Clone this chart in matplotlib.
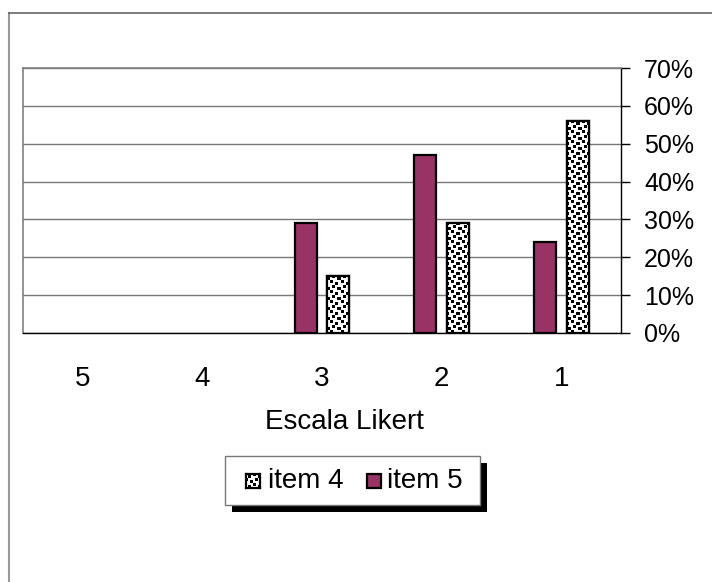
import numpy as np
import matplotlib
matplotlib.use("Agg")
import matplotlib.pyplot as plt
from matplotlib.patches import Rectangle
from matplotlib.lines import Line2D
from matplotlib.ticker import PercentFormatter

categories = ["5", "4", "3", "2", "1"]
item5 = [0, 0, 29, 47, 24]
item4 = [0, 0, 15, 29, 56]
yticks = [0, 10, 20, 30, 40, 50, 60, 70]
series_labels = ["item 4", "item 5"]

plt.rcParams["font.family"] = ["Liberation Sans", "DejaVu Sans"]

W, H, DPI = 712, 582, 100
fig = plt.figure(figsize=(W / DPI, H / DPI), dpi=DPI)
fig.patch.set_facecolor("white")


def fx(px):
    return px / W


def fy(py):
    return 1 - py / H


# outer chart frame (left and top edges)
fig.add_artist(Line2D([fx(9), fx(9)], [0, fy(13)], transform=fig.transFigure,
                      color="#9a9a9a", lw=1.5))
fig.add_artist(Line2D([fx(9), 1], [fy(13), fy(13)], transform=fig.transFigure,
                      color="#666666", lw=1.2))

left, right, top, bottom = 23, 621, 68, 333
ax = fig.add_axes([fx(left), fy(bottom), fx(right - left), (bottom - top) / H])

x = np.arange(len(categories))
bw = 0.185
off = 0.137
plum = "#993366"


def edge_widths(vals):
    return [1.6 if v > 0 else 0 for v in vals]


b5 = ax.bar(x - off, item5, bw, color=plum, edgecolor="black",
            linewidth=edge_widths(item5), zorder=3)
b4 = ax.bar(x + off, item4, bw, color="white", edgecolor="black",
            linewidth=edge_widths(item4), zorder=3)

ax.set_xlim(-0.5, len(categories) - 0.5)
ax.set_ylim(0, 70)
ax.set_yticks(yticks)
ax.yaxis.set_major_formatter(PercentFormatter(decimals=0))
ax.yaxis.tick_right()
ax.tick_params(axis="y", direction="out", length=6.5, width=1, labelsize=18, pad=10,
               colors="black")
ax.set_xticks(x)
ax.set_xticklabels(categories)
ax.tick_params(axis="x", length=0, labelsize=20, pad=24)

ax.grid(axis="y", color="#777777", lw=1, zorder=0)
for s in ("left", "top"):
    ax.spines[s].set_color("#808080")
    ax.spines[s].set_linewidth(1.2)
ax.spines["right"].set_color("black")
ax.spines["right"].set_linewidth(1)
ax.spines["bottom"].set_color("black")
ax.spines["bottom"].set_linewidth(1)


def confetti(h, w, x0=0, y0=0):
    """Confetti fill pattern, aligned to figure pixels."""
    n = 10
    tile = np.zeros((n, n))
    for r, c in [(0, 0), (2, 5), (5, 2), (7, 7)]:
        tile[r:r + 3, c:c + 3] = 1
    yy = (np.arange(h) + y0) % n
    xx = (np.arange(w) + x0) % n
    return tile[np.ix_(yy, xx)]


fig.canvas.draw()
for rect in b4:
    if rect.get_height() <= 0:
        continue
    bb = rect.get_window_extent()
    pw, ph = max(int(round(bb.width)), 1), max(int(round(bb.height)), 1)
    img = confetti(ph, pw, int(bb.x0), int(H - bb.y1))
    xr0, yr0 = rect.get_x(), rect.get_y()
    im = ax.imshow(img, cmap="gray_r", vmin=0, vmax=1, interpolation="nearest",
                   extent=(xr0, xr0 + rect.get_width(), yr0, yr0 + rect.get_height()),
                   aspect="auto", zorder=3.5)
    im.set_clip_path(rect)
    ax.add_patch(Rectangle((xr0, yr0), rect.get_width(), rect.get_height(), fill=False,
                           edgecolor="black", linewidth=1.6, zorder=4))
ax.set_xlim(-0.5, len(categories) - 0.5)
ax.set_ylim(0, 70)

fig.text(fx(344), fy(422), "Escala Likert", ha="center", va="center", fontsize=20)

# legend with drop shadow
lx0, ly0, lx1, ly1 = 225, 456, 480, 505
sh = 7
fig.add_artist(Rectangle((fx(lx0 + sh), fy(ly1 + sh)), fx(lx1 - lx0), (ly1 - ly0) / H,
                         transform=fig.transFigure, facecolor="black", lw=0, zorder=1))
fig.add_artist(Rectangle((fx(lx0), fy(ly1)), fx(lx1 - lx0), (ly1 - ly0) / H,
                         transform=fig.transFigure, facecolor="white",
                         edgecolor="#777777", lw=1, zorder=2))

# item 4 key: confetti swatch
k4 = fig.add_axes([fx(246), fy(488), fx(14), 14 / H])
k4.set_zorder(5)
k4.imshow(confetti(14, 14, 3, 1), cmap="gray_r", vmin=0, vmax=1,
          interpolation="nearest", aspect="auto")
k4.set_xticks([])
k4.set_yticks([])
for s in k4.spines.values():
    s.set_linewidth(1.6)
    s.set_color("black")
fig.text(fx(268), fy(481), series_labels[0], ha="left", va="center", fontsize=20,
         zorder=6)

# item 5 key
fig.add_artist(Rectangle((fx(367), fy(488)), fx(14), 14 / H, transform=fig.transFigure,
                         facecolor=plum, edgecolor="black", lw=1.6, zorder=5))
fig.text(fx(387), fy(481), series_labels[1], ha="left", va="center", fontsize=20,
         zorder=6)

fig.savefig("out.png", dpi=DPI, facecolor="white")
